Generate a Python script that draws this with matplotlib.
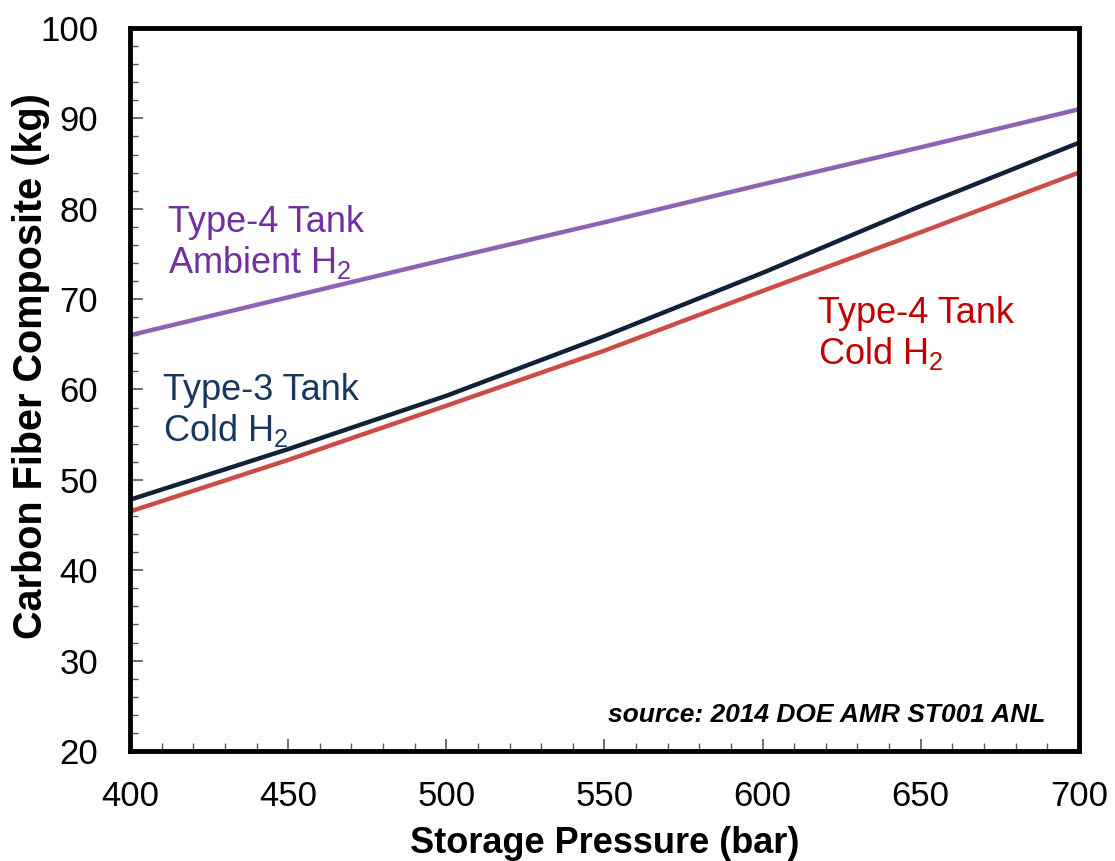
import matplotlib
matplotlib.use("Agg")
import matplotlib.pyplot as plt
from matplotlib.ticker import MultipleLocator

plt.rcParams['font.family'] = ['Liberation Sans', 'DejaVu Sans']
plt.rcParams['mathtext.default'] = 'regular'

pressure = [400, 450, 500, 550, 600, 650, 700]
type4_ambient = [66.0, 70.2, 74.4, 78.5, 82.7, 86.8, 91.0]
type3_cold = [47.8, 53.4, 59.3, 65.9, 72.9, 80.3, 87.3]
type4_cold = [46.5, 52.2, 58.2, 64.3, 70.9, 77.4, 84.0]

x_ticks = [400, 450, 500, 550, 600, 650, 700]
y_ticks = [20, 30, 40, 50, 60, 70, 80, 90, 100]

fig = plt.figure(figsize=(11.15, 8.61), dpi=100)
ax = fig.add_axes([0.1166, 0.1278, 0.851, 0.8397])

ax.plot(pressure, type4_ambient, color='#8e63b4', lw=3.2, solid_capstyle='butt')
ax.plot(pressure, type3_cold, color='#0f2238', lw=3.2, solid_capstyle='butt')
ax.plot(pressure, type4_cold, color='#cc4c47', lw=3.2, solid_capstyle='butt')

ax.set_xlim(400, 700)
ax.set_ylim(20, 100)
ax.set_xticks(x_ticks)
ax.set_yticks(y_ticks)
ax.xaxis.set_minor_locator(MultipleLocator(10))
ax.yaxis.set_minor_locator(MultipleLocator(2))
ax.tick_params(which='both', direction='in', top=False, right=False, color='#555555')
ax.tick_params(which='major', length=9, width=1.2, labelsize=25)
ax.tick_params(which='minor', length=6, width=1.0)
ax.tick_params(axis='y', which='major', pad=23)
ax.tick_params(axis='x', which='major', pad=21)

for s in ax.spines.values():
    s.set_linewidth(3.5)
    s.set_color('black')

ax.set_xlabel('Storage Pressure (bar)', fontsize=26, fontweight='bold', labelpad=9)
ax.set_ylabel('Carbon Fiber Composite (kg)', fontsize=28.5, fontweight='bold')
ax.yaxis.set_label_coords(-0.0843, 0.5325)

ax.text(412, 80.45, 'Type-4 Tank\nAmbient H$_2$', color='#7030a0', fontsize=26,
        va='top', ha='left', linespacing=1.14)
ax.text(410.4, 61.85, 'Type-3 Tank\nCold H$_2$', color='#17375e', fontsize=26,
        va='top', ha='left', linespacing=1.14)
ax.text(617.5, 70.35, 'Type-4 Tank\nCold H$_2$', color='#c00000', fontsize=26,
        va='top', ha='left', linespacing=1.14)
ax.text(689.3, 24.0, 'source: 2014 DOE AMR ST001 ANL', color='black', fontsize=19,
        fontweight='bold', fontstyle='italic', ha='right', va='center')

fig.savefig('out.png', dpi=100)
